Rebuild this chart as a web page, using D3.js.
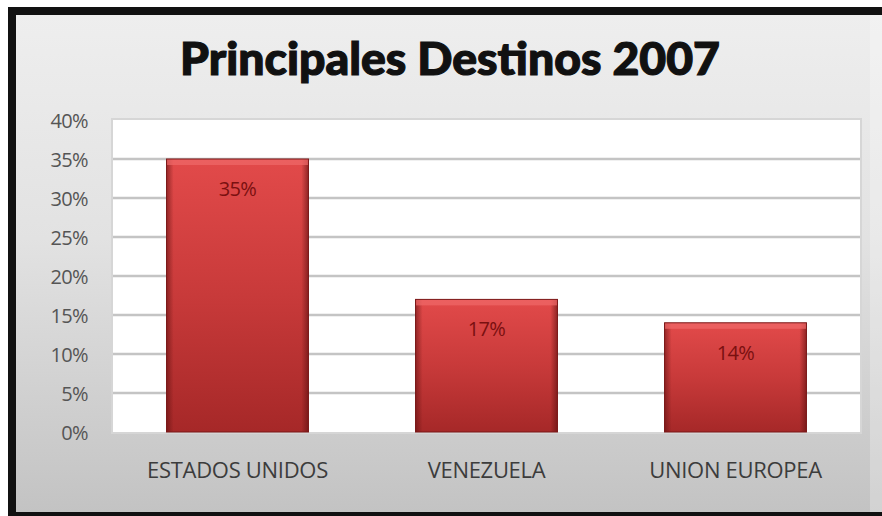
<!DOCTYPE html>
<html><head><meta charset="utf-8">
<script src="https://cdn.jsdelivr.net/npm/d3@7"></script>
<style>html,body{margin:0;padding:0;background:#fff;}svg{display:block;}</style>
</head><body>
<script>
const categories = ["ESTADOS UNIDOS", "VENEZUELA", "UNION EUROPEA"];
const values = [0.35, 0.17, 0.14];
const valueLabels = ["35%", "17%", "14%"];
const yTicks = [0, 0.05, 0.10, 0.15, 0.20, 0.25, 0.30, 0.35, 0.40];
const title = "Principales Destinos 2007";

const W = 882, H = 516;
const svg = d3.select("body").append("svg").attr("width", W).attr("height", H);
const defs = svg.append("defs");

const bg = defs.append("linearGradient").attr("id","bg").attr("x1",0).attr("y1",0).attr("x2",0).attr("y2",1);
bg.append("stop").attr("offset","0%").attr("stop-color","#eeeeee");
bg.append("stop").attr("offset","45%").attr("stop-color","#e2e2e2");
bg.append("stop").attr("offset","100%").attr("stop-color","#c3c3c3");

const bv = defs.append("linearGradient").attr("id","barv").attr("x1",0).attr("y1",0).attr("x2",0).attr("y2",1);
bv.append("stop").attr("offset","0%").attr("stop-color","#e24a4a");
bv.append("stop").attr("offset","50%").attr("stop-color","#c83a3a");
bv.append("stop").attr("offset","100%").attr("stop-color","#a62828");

const bh = defs.append("linearGradient").attr("id","barh").attr("x1",0).attr("y1",0).attr("x2",1).attr("y2",0);
bh.append("stop").attr("offset","0%").attr("stop-color","#5a0f0f").attr("stop-opacity",0.55);
bh.append("stop").attr("offset","5%").attr("stop-color","#5a0f0f").attr("stop-opacity",0);
bh.append("stop").attr("offset","95%").attr("stop-color","#5a0f0f").attr("stop-opacity",0);
bh.append("stop").attr("offset","100%").attr("stop-color","#5a0f0f").attr("stop-opacity",0.6);

// frame
svg.append("rect").attr("x",8).attr("y",7).attr("width",W-8).attr("height",H-7).attr("fill","#111");
svg.append("rect").attr("x",16).attr("y",15).attr("width",W-16).attr("height",H-19).attr("fill","url(#bg)");
svg.append("rect").attr("x",W-12).attr("y",15).attr("width",12).attr("height",H-19).attr("fill","#ffffff").attr("opacity",0.25);

// title
svg.append("text").attr("x",450).attr("y",75).attr("text-anchor","middle")
  .attr("font-family","Lato, 'DejaVu Sans', sans-serif").attr("font-weight","900")
  .attr("font-size",45).attr("fill","#111").attr("stroke","#111").attr("stroke-width",1.2)
  .attr("textLength",540).attr("lengthAdjust","spacingAndGlyphs")
  .text(title);

const m = {left:113, right:860, top:120, bottom:432};
const x = d3.scaleBand().domain(categories).range([m.left, m.right]).paddingInner(0.43).paddingOuter(0.215);
const y = d3.scaleLinear().domain([0, 0.40]).range([m.bottom, m.top]);

// plot area
svg.append("rect").attr("x",m.left-2).attr("y",m.top-2).attr("width",m.right-m.left+4).attr("height",m.bottom-m.top+4)
  .attr("fill","#d6d6d6");
svg.append("rect").attr("x",m.left).attr("y",m.top).attr("width",m.right-m.left).attr("height",m.bottom-m.top)
  .attr("fill","#ffffff");

// grid
svg.append("g").selectAll("line").data(yTicks.slice(1,-1)).join("line")
  .attr("x1",m.left).attr("x2",m.right).attr("y1",d=>y(d)).attr("y2",d=>y(d))
  .attr("stroke","#c4c4c4").attr("stroke-width",2.5);

// y axis
const yAxis = d3.axisLeft(y).tickValues(yTicks).tickFormat(d3.format(".0%")).tickSize(0).tickPadding(0);
const ga = svg.append("g").attr("transform",`translate(88,0)`).call(yAxis);
ga.select(".domain").remove();
ga.selectAll("text").attr("font-family","'Open Sans', sans-serif").attr("font-size",20).attr("fill","#555555")
  .attr("dy","0.35em").attr("letter-spacing","-0.6");

// x axis labels
const xAxis = d3.axisBottom(x).tickSize(0).tickPadding(0);
const gx = svg.append("g").attr("transform",`translate(0,462)`).call(xAxis);
gx.select(".domain").remove();
gx.selectAll("text").attr("font-family","'Open Sans', sans-serif").attr("font-size",22).attr("fill","#3c3c3c").attr("dy","0.72em")
  .attr("letter-spacing","-0.3");

// bars
const bars = svg.append("g").selectAll("g").data(categories).join("g");
bars.append("rect").attr("x",d=>x(d)).attr("width",x.bandwidth())
  .attr("y",(d,i)=>y(values[i])).attr("height",(d,i)=>y(0)-y(values[i]))
  .attr("fill","url(#barv)");
bars.append("rect").attr("x",d=>x(d)).attr("width",x.bandwidth())
  .attr("y",(d,i)=>y(values[i])).attr("height",(d,i)=>y(0)-y(values[i]))
  .attr("fill","url(#barh)");
bars.append("rect").attr("x",d=>x(d)).attr("width",x.bandwidth())
  .attr("y",(d,i)=>y(values[i])).attr("height",6)
  .attr("fill","#f06a6a").attr("opacity",0.7);
bars.append("rect").attr("x",d=>x(d)).attr("width",x.bandwidth())
  .attr("y",(d,i)=>y(values[i])).attr("height",(d,i)=>y(0)-y(values[i]))
  .attr("fill","none").attr("stroke","#7a1818").attr("stroke-width",1);
bars.append("text").attr("x",d=>x(d)+x.bandwidth()/2).attr("y",(d,i)=>y(values[i])+37)
  .attr("text-anchor","middle").attr("font-family","'Open Sans', sans-serif").attr("font-size",20)
  .attr("letter-spacing","-0.6")
  .attr("fill","#7a1010").text((d,i)=>valueLabels[i]);
</script>
</body></html>
